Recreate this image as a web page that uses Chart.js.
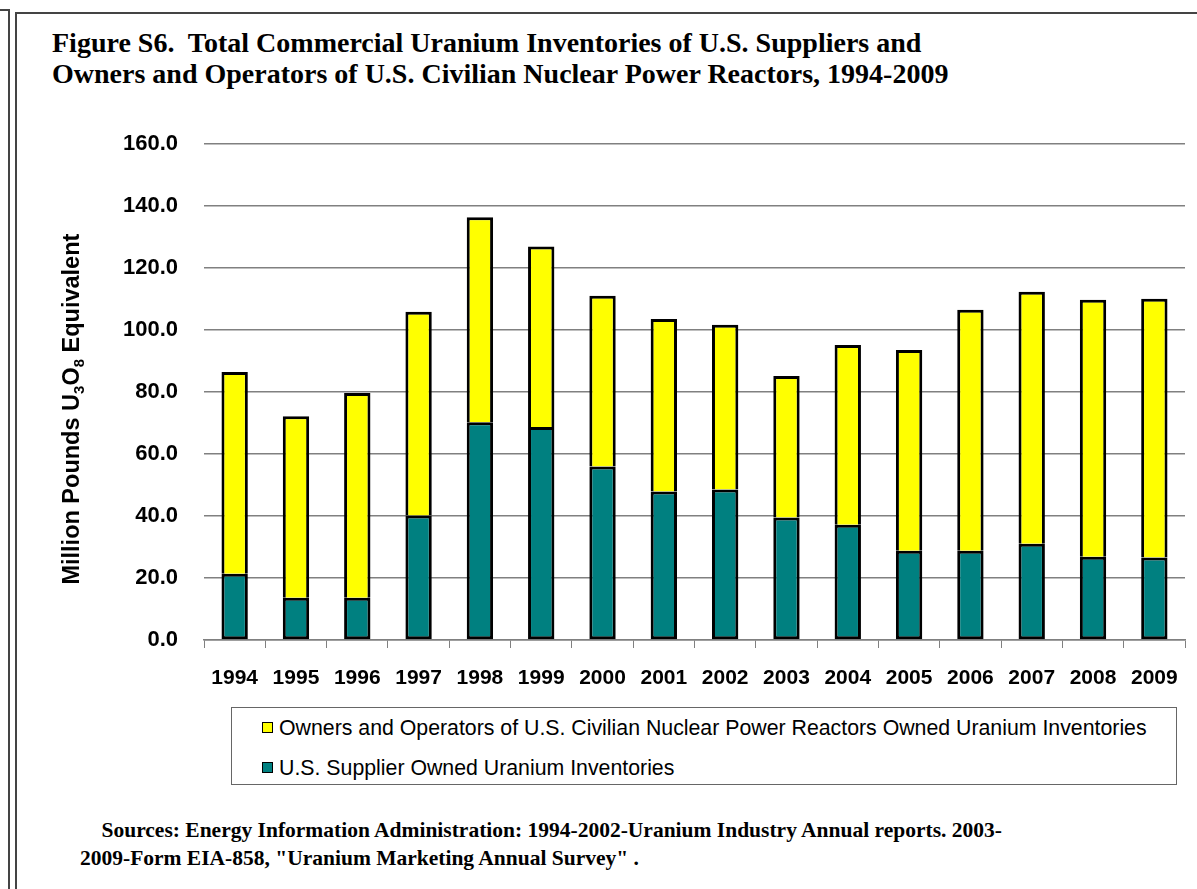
<!DOCTYPE html>
<html>
<head>
<meta charset="utf-8">
<script src="https://cdn.jsdelivr.net/npm/chart.js@4.4.0/dist/chart.umd.min.js"></script>
<style>
  body { margin: 0; background: #fff; width: 1197px; height: 889px; position: relative; overflow: hidden; }
  .frame-outer { position: absolute; left: 8px; top: 9px; width: 0; bottom: 0; border-left: 2px solid #444; }
  .frame-outer-top { position: absolute; left: 0; top: 9px; width: 9px; border-top: 2px solid #444; }
  .frame-inner { position: absolute; left: 15px; top: 12px; right: -5px; bottom: -5px; border-left: 2px solid #444; border-top: 2px solid #444; }
  #title { position: absolute; left: 52px; top: 27px; font: bold 28px "Liberation Serif", "Times New Roman", serif; line-height: 31px; color: #000; }
  #chartWrap { position: absolute; left: 0; top: 105px; width: 1197px; height: 587px; }
  #legend { position: absolute; left: 231px; top: 707px; width: 946px; height: 78px; border: 1px solid #666; box-sizing: border-box; font: 21.3px "Liberation Sans", Arial, sans-serif; color: #000; }
  .item { position: absolute; left: 30px; white-space: nowrap; }
  .swatch { display: inline-block; width: 9px; height: 9px; border: 1.5px solid #000; margin-right: 6px; vertical-align: 2px; }
  #source { position: absolute; left: 80px; top: 816px; font: bold 21.5px "Liberation Serif", "Times New Roman", serif; line-height: 28px; color: #000; }
</style>
</head>
<body>
<div class="frame-outer-top"></div>
<div class="frame-outer"></div>
<div class="frame-inner"></div>
<div id="title">Figure S6.&nbsp; Total Commercial Uranium Inventories of U.S. Suppliers and<br>Owners and Operators of U.S. Civilian Nuclear Power Reactors, 1994-2009</div>
<div id="chartWrap"><canvas id="invChart" width="1197" height="587"></canvas></div>
<div id="legend">
  <div class="item" style="top:8px"><span class="swatch" style="background:#FFFF00"></span>Owners and Operators of U.S. Civilian Nuclear Power Reactors Owned Uranium Inventories</div>
  <div class="item" style="top:48px"><span class="swatch" style="background:#008080"></span>U.S. Supplier Owned Uranium Inventories</div>
</div>
<div id="source">&nbsp;&nbsp;&nbsp;&nbsp;Sources: Energy Information Administration: 1994-2002-Uranium Industry Annual reports. 2003-<br>2009-Form EIA-858, "Uranium Marketing Annual Survey" .</div>

<script>
// data (million pounds U3O8 equivalent)
const years = ["1994", "1995", "1996", "1997", "1998", "1999", "2000", "2001",
               "2002", "2003", "2004", "2005", "2006", "2007", "2008", "2009"];
const supplierInv = [21.4, 13.6, 13.6, 40.2, 70.3, 68.7, 56.0, 47.9,
                     48.6, 39.5, 37.2, 28.8, 28.8, 31.1, 26.9, 26.6];
const ownerInv = [65.1, 58.6, 66.1, 65.7, 66.1, 58.3, 55.1, 55.7,
                  53.1, 45.7, 58.0, 64.8, 77.8, 81.3, 82.9, 83.5];
const yTicks = [0, 20, 40, 60, 80, 100, 120, 140, 160];

// y axis title with subscripts, drawn by hand
const yTitlePlugin = {
    id: "yTitle",
    afterDraw(chart) {
        const ctx = chart.ctx;
        const area = chart.chartArea;
        const parts = [
            ["Million Pounds U", false], ["3", true], ["O", false], ["8", true], [" Equivalent", false]
        ];
        const big = "bold 23.5px 'Liberation Sans', Arial, sans-serif";
        const small = "bold 15px 'Liberation Sans', Arial, sans-serif";
        let total = 0;
        parts.forEach(p => { ctx.font = p[1] ? small : big; total += ctx.measureText(p[0]).width; });
        ctx.save();
        ctx.translate(79, (area.top + area.bottom) / 2 + 17);
        ctx.rotate(-Math.PI / 2);
        ctx.fillStyle = "#000";
        ctx.textBaseline = "alphabetic";
        let x = -total / 2;
        parts.forEach(p => {
            ctx.font = p[1] ? small : big;
            ctx.fillText(p[0], x, p[1] ? 5 : 0);
            x += ctx.measureText(p[0]).width;
        });
        ctx.restore();
    }
};

const ctx = document.getElementById("invChart").getContext("2d");
new Chart(ctx, {
    type: "bar",
    data: {
        labels: years,
        datasets: [
            {
                label: "U.S. Supplier Owned Uranium Inventories",
                data: supplierInv,
                backgroundColor: "#008080",
                borderColor: "#000",
                borderWidth: 3,
                borderSkipped: false,
            },
            {
                label: "Owners and Operators of U.S. Civilian Nuclear Power Reactors Owned Uranium Inventories",
                data: ownerInv,
                backgroundColor: "#FFFF00",
                borderColor: "#000",
                borderWidth: 3,
                borderSkipped: "start",
            },
        ],
    },
    options: {
        responsive: false,
        animation: false,
        layout: { padding: { top: 14, right: 12, left: 0, bottom: 0 } },
        plugins: {
            legend: { display: false },
            title: { display: false },
            tooltip: { enabled: false },
        },
        datasets: { bar: { categoryPercentage: 1, barPercentage: 0.43 } },
        scales: {
            x: {
                stacked: true,
                grid: {
                    offset: true,
                    drawOnChartArea: false,
                    tickLength: 8,
                    color: "#808080",
                },
                border: { color: "#808080", width: 1.5 },
                ticks: {
                    color: "#000",
                    padding: 18,
                    maxRotation: 0,
                    font: { family: "'Liberation Sans', Arial, sans-serif", size: 21, weight: "bold" },
                },
                afterFit: s => { s.height = 52; },
            },
            y: {
                stacked: true,
                min: 0,
                max: 160,
                afterBuildTicks: s => { s.ticks = yTicks.map(v => ({ value: v })); },
                grid: { color: "#808080", lineWidth: 1.5, drawTicks: false },
                border: { display: false },
                ticks: {
                    color: "#000",
                    padding: 26,
                    callback: v => v.toFixed(1),
                    font: { family: "'Liberation Sans', Arial, sans-serif", size: 22, weight: "bold" },
                },
                afterFit: s => { s.width = 204; },
            },
        },
    },
    plugins: [yTitlePlugin],
});
</script>
</body>
</html>
